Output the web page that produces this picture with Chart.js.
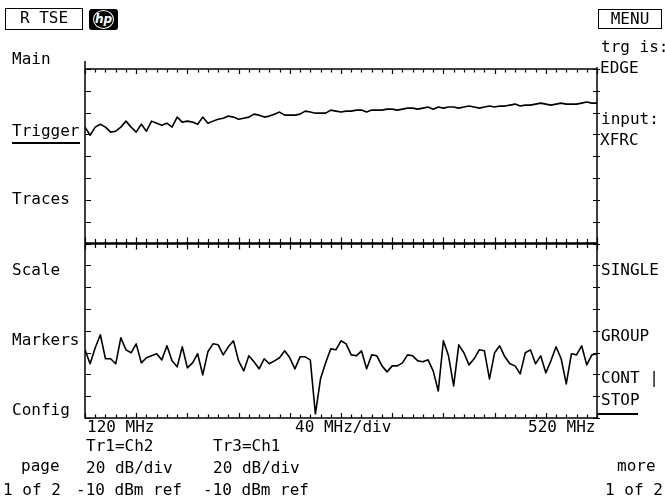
<!DOCTYPE html>
<html>
<head>
<meta charset="utf-8">
<script src="https://cdn.jsdelivr.net/npm/chart.js@4.4.1/dist/chart.umd.min.js"></script>
<style>
  html, body { margin: 0; padding: 0; background: #fff; }
  #screen { position: relative; width: 665px; height: 502px; overflow: hidden;
            font-family: "DejaVu Sans Mono", monospace; font-size: 16px; color: #000; }
  #screen canvas { position: absolute; left: 0; top: 0; }
  .lbl { position: absolute; line-height: 16px; white-space: pre; }
  .ul { position: absolute; height: 1.5px; background: #000; }
  .box { position: absolute; border: 1.5px solid #000; box-sizing: border-box; text-align: center; line-height: 18px; }
  #hp { position: absolute; left: 89px; top: 9px; width: 29px; height: 21px; background: #000; border-radius: 3px; }
  #hp span { position: absolute; left: 4px; top: 1px; width: 19px; height: 17px; border: 1.5px solid #fff; border-radius: 50%;
             color: #fff; font: italic bold 12px "DejaVu Sans", sans-serif; line-height: 17px; text-align: center; }
</style>
</head>
<body>
<div id="screen">
  <canvas id="traceChart" width="665" height="502"></canvas>
</div>
<script>
// sweep: 120 MHz .. 520 MHz, 40 MHz/div, 101 points
const freqStart = 120;
const freqStop = 520;
const freqPerDiv = 40;
const freqMinorStep = 8;
const freqs = [];
for (let i = 0; i <= 100; i++) freqs.push(freqStart + i * 4);

// both traces: 20 dB/div, -10 dBm ref, 8 divisions per panel
const refLevel = -10;
const dbPerDiv = 20;
const divsPerPanel = 8;

// Tr1 = Ch2 (upper panel), dBm
const tr1 = [
  -63.3, -70.7, -63.3, -60.6, -63.3, -67.9, -67.0, -63.3, -57.8, -63.3,
  -67.9, -60.6, -67.0, -57.8, -59.7, -61.5, -59.7, -63.3, -54.1, -58.7,
  -57.8, -58.7, -60.6, -54.1, -59.7, -57.8, -56.0, -55.1, -53.2, -54.1,
  -56.0, -55.1, -54.1, -51.4, -52.3, -54.1, -53.2, -51.4, -49.5, -52.3,
  -52.3, -52.3, -51.4, -48.6, -49.5, -50.5, -50.5, -50.5, -47.7, -48.6,
  -49.5, -48.6, -48.6, -47.7, -47.7, -49.5, -47.7, -47.7, -47.7, -46.8,
  -46.8, -47.7, -46.8, -45.9, -45.9, -46.8, -45.9, -44.9, -46.8, -44.9,
  -45.9, -44.9, -44.9, -45.9, -44.9, -44.0, -44.9, -45.9, -44.9, -44.0,
  -44.9, -44.0, -44.0, -43.1, -42.2, -44.0, -43.1, -43.1, -42.2, -41.3,
  -42.2, -43.1, -42.2, -41.3, -42.2, -42.2, -42.2, -41.3, -40.3, -41.3,
  -41.3
];

// Tr3 = Ch1 (lower panel), dBm
const tr3 = [
  -107.5, -120.3, -105.6, -93.7, -115.7, -115.7, -120.3, -96.4, -107.5, -110.2,
  -102.0, -119.4, -114.8, -113.0, -111.1, -116.7, -103.8, -117.6, -123.1, -104.7,
  -124.0, -119.4, -111.1, -130.5, -109.3, -102.0, -102.9, -112.1, -104.7, -99.2,
  -117.6, -126.8, -113.0, -118.5, -124.9, -115.7, -120.3, -117.6, -114.8, -108.4,
  -114.8, -124.9, -113.9, -113.9, -116.7, -166.3, -134.1, -119.4, -106.6, -107.5,
  -99.2, -102.0, -112.1, -113.0, -108.4, -124.9, -112.1, -113.0, -122.2, -127.7,
  -122.2, -122.2, -119.4, -112.1, -113.0, -117.6, -118.5, -116.7, -126.8, -145.2,
  -99.2, -113.0, -140.6, -102.9, -110.2, -121.3, -115.7, -107.5, -108.4, -134.1,
  -110.2, -103.8, -113.9, -120.3, -122.2, -129.5, -110.2, -107.5, -120.3, -113.0,
  -128.6, -117.6, -104.7, -115.7, -138.7, -111.1, -112.1, -103.8, -121.3, -112.1,
  -111.1
];

// screen texts: [text, left x, cap centre y]
const labels = [
  ['Main', 12, 59], ['Trigger', 12, 131], ['Traces', 12, 199], ['Scale', 12, 270],
  ['Markers', 12, 340], ['Config', 12, 410], ['page', 21, 466], ['1 of 2', 3, 490],
  ['120 MHz', 87, 427], ['40 MHz/div', 295, 427], ['520 MHz', 528, 427],
  ['Tr1=Ch2', 86, 446], ['Tr3=Ch1', 213, 446],
  ['20 dB/div', 86, 468], ['20 dB/div', 213, 468],
  ['-10 dBm ref', 76, 490], ['-10 dBm ref', 203, 490],
  ['trg is:', 601, 47], ['EDGE', 600, 68], ['input:', 601, 119], ['XFRC', 600, 140],
  ['SINGLE', 601, 270], ['GROUP', 601, 336], ['CONT |', 601, 378], ['STOP', 601, 400],
  ['more', 617, 466], ['1 of 2', 605, 490]
];
const underlines = [[12, 142, 68], [598, 413, 40]]; // x, y, width
const boxes = [['R TSE', 5, 8, 78, 22], ['MENU', 598, 9, 64, 20]];

const screen = document.getElementById('screen');
labels.forEach(([t, x, y]) => {
  const d = document.createElement('div');
  d.className = 'lbl';
  d.textContent = t;
  d.style.left = x + 'px';
  d.style.top = (y - 8) + 'px';
  screen.appendChild(d);
});
underlines.forEach(([x, y, w]) => {
  const d = document.createElement('div');
  d.className = 'ul';
  d.style.left = x + 'px'; d.style.top = y + 'px'; d.style.width = w + 'px';
  screen.appendChild(d);
});
boxes.forEach(([t, x, y, w, h]) => {
  const d = document.createElement('div');
  d.className = 'box';
  d.textContent = t;
  d.style.left = x + 'px'; d.style.top = y + 'px';
  d.style.width = w + 'px'; d.style.height = h + 'px';
  screen.appendChild(d);
});
const hp = document.createElement('div');
hp.id = 'hp';
hp.innerHTML = '<span>hp</span>';
screen.appendChild(hp);

// graticule: frame, centre line and inward tick marks
const hpFrame = {
  id: 'hpFrame',
  afterDatasetsDraw(chart) {
    const { ctx, chartArea: a, scales: { x, yTop, yBot } } = chart;
    const panelLow = refLevel - divsPerPanel * dbPerDiv;
    const mid = yTop.getPixelForValue(panelLow);
    ctx.save();
    ctx.strokeStyle = '#000';
    ctx.lineWidth = 1.5;
    ctx.beginPath();
    ctx.moveTo(a.left, a.top - 8); ctx.lineTo(a.left, a.bottom);
    ctx.lineTo(a.right, a.bottom); ctx.lineTo(a.right, a.top - 2);
    ctx.moveTo(a.left, a.top); ctx.lineTo(a.right, a.top);
    ctx.stroke();

    ctx.lineWidth = 2.5;
    ctx.beginPath();
    ctx.moveTo(a.left, mid); ctx.lineTo(a.right, mid);
    ctx.stroke();

    ctx.lineWidth = 1.2;
    ctx.beginPath();
    for (let f = freqStart; f <= freqStop + 0.01; f += freqMinorStep) {
      const px = Math.round(x.getPixelForValue(f)) + 0.5;
      const major = Math.abs((f - freqStart) % freqPerDiv) < 0.01;
      const len = major ? 5 : 3.5;
      ctx.moveTo(px, a.top); ctx.lineTo(px, a.top + len);
      ctx.moveTo(px, mid - len - 1); ctx.lineTo(px, mid + len + 1);
      ctx.moveTo(px, a.bottom); ctx.lineTo(px, a.bottom - len);
    }
    [yTop, yBot].forEach(sc => {
      for (let v = refLevel; v >= panelLow; v -= dbPerDiv) {
        const py = Math.round(sc.getPixelForValue(v)) + 0.5;
        ctx.moveTo(a.left, py); ctx.lineTo(a.left + 6, py);
        ctx.moveTo(a.right - 4, py); ctx.lineTo(a.right + 3, py);
      }
    });
    ctx.stroke();
    ctx.restore();
  }
};

const span = 2 * divsPerPanel * dbPerDiv;
new Chart(document.getElementById('traceChart'), {
  type: 'line',
  data: {
    labels: freqs,
    datasets: [
      { label: 'Tr1=Ch2', data: tr1, yAxisID: 'yTop' },
      { label: 'Tr3=Ch1', data: tr3, yAxisID: 'yBot' }
    ]
  },
  options: {
    responsive: false,
    animation: false,
    events: [],
    layout: { padding: { left: 85, right: 68, top: 69, bottom: 84 } },
    elements: {
      line: { borderColor: '#000', borderWidth: 1.6, tension: 0, borderJoinStyle: 'round' },
      point: { radius: 0 }
    },
    plugins: { legend: { display: false }, tooltip: { enabled: false } },
    scales: {
      x: { type: 'linear', display: false, min: freqStart, max: freqStop },
      // upper panel occupies the top half: ref at top, 8 div down to the centre line
      yTop: { type: 'linear', display: false, max: refLevel, min: refLevel - span },
      // lower panel occupies the bottom half
      yBot: { type: 'linear', display: false, max: refLevel + span / 2, min: refLevel - span / 2 }
    }
  },
  plugins: [hpFrame]
});
</script>
</body>
</html>
